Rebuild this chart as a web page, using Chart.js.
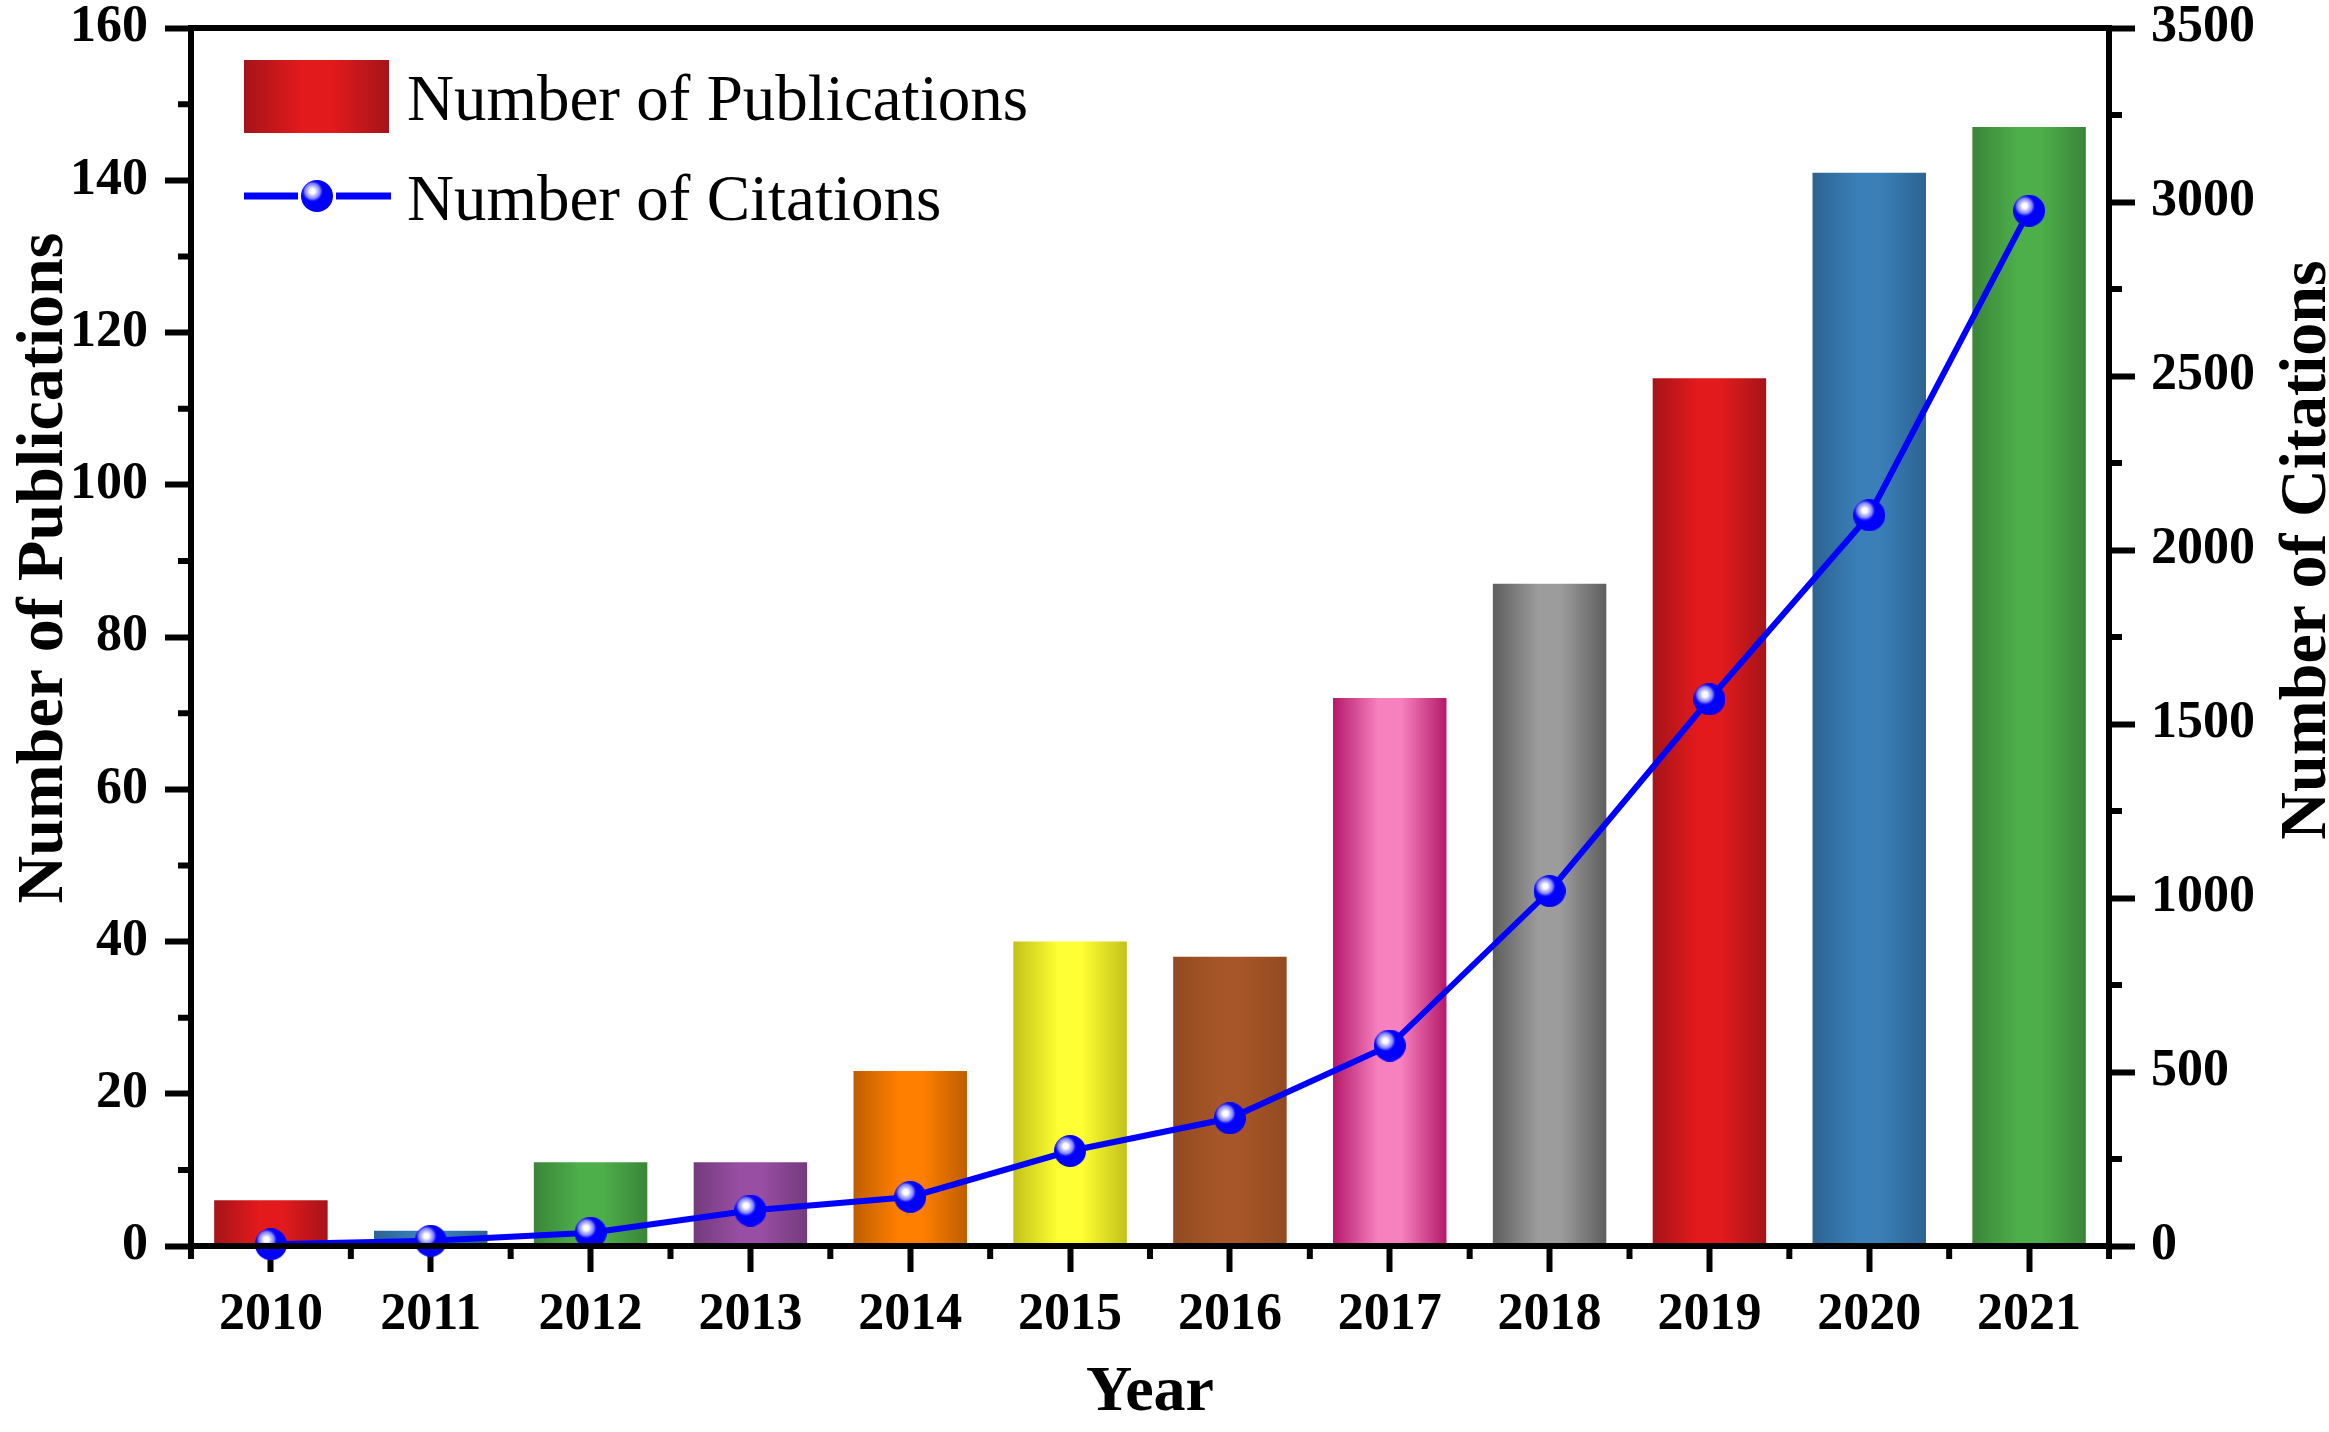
<!DOCTYPE html>
<html>
<head>
<meta charset="utf-8">
<script src="https://cdn.jsdelivr.net/npm/chart.js@4.4.1/dist/chart.umd.min.js"></script>
<style>
	html, body { margin: 0; padding: 0; background: #fff; }
	#wrap { width: 2329px; height: 1432px; position: relative; }
</style>
</head>
<body>
<div id="wrap"><canvas id="pubChart"></canvas></div>
<script>
const years = ['2010', '2011', '2012', '2013', '2014', '2015', '2016', '2017', '2018', '2019', '2020', '2021'];
const publications = [6, 2, 11, 11, 23, 40, 38, 72, 87, 114, 141, 147];
const citations = [5, 15, 38, 102, 141, 273, 367, 576, 1020, 1571, 2100, 2975];

const barLight = ['#e31a1c', '#3a7fb8', '#4daf4a', '#984ea3', '#ff7f00', '#ffff33', '#a65628', '#f781bf', '#9c9c9c', '#e31a1c', '#3a7fb8', '#4daf4a'];
const barDark = ['#a5141a', '#2c6391', '#3a8539', '#733b7c', '#bf5e00', '#c2c21a', '#934a20', '#b5196a', '#5e5e5e', '#a5141a', '#2c6391', '#3a8539'];

const pubTicks = [0, 20, 40, 60, 80, 100, 120, 140, 160];
const pubMinorTicks = [10, 30, 50, 70, 90, 110, 130, 150];
const citeTicks = [0, 500, 1000, 1500, 2000, 2500, 3000, 3500];
const citeMinorTicks = [250, 750, 1250, 1750, 2250, 2750, 3250];

const serif = '"Liberation Serif", "Times New Roman", serif';
const barPct = 0.71;

function makeSphere(r) {
	const c = document.createElement('canvas');
	c.width = c.height = r * 2;
	const g = c.getContext('2d');
	g.fillStyle = '#0000ff';
	g.beginPath();
	g.arc(r, r, r, 0, Math.PI * 2);
	g.fill();
	const hx = r - r * 0.28;
	const hy = r - r * 0.3;
	const rg = g.createRadialGradient(hx, hy, 0, hx, hy, r * 0.7);
	rg.addColorStop(0, '#ffffff');
	rg.addColorStop(0.22, '#ffffff');
	rg.addColorStop(0.4, '#c8c8ff');
	rg.addColorStop(0.7, '#7878ff');
	rg.addColorStop(1, 'rgba(0,0,255,0)');
	g.fillStyle = rg;
	g.beginPath();
	g.arc(r, r, r, 0, Math.PI * 2);
	g.fill();
	return c;
}

const sphere = makeSphere(16);

function barGradient(ctx, x0, x1, i) {
	const g = ctx.createLinearGradient(x0, 0, x1, 0);
	g.addColorStop(0, barDark[i]);
	g.addColorStop(0.4, barLight[i]);
	g.addColorStop(0.6, barLight[i]);
	g.addColorStop(1, barDark[i]);
	return g;
}

// top frame line, minor ticks, legend and rotated axis titles
const extrasPlugin = {
	id: 'extras',
	afterDraw(chart) {
		const { ctx, chartArea, scales } = chart;
		const { left, right, top, bottom } = chartArea;
		ctx.save();
		ctx.strokeStyle = '#000';
		ctx.lineWidth = 6;
		ctx.beginPath();
		ctx.moveTo(left - 3, top);
		ctx.lineTo(right + 3, top);
		ctx.stroke();

		ctx.beginPath();
		pubMinorTicks.forEach((v) => {
			const y = scales.y.getPixelForValue(v);
			ctx.moveTo(left - 13, y);
			ctx.lineTo(left, y);
		});
		citeMinorTicks.forEach((v) => {
			const y = scales.y1.getPixelForValue(v);
			ctx.moveTo(right, y);
			ctx.lineTo(right + 13, y);
		});
		const cat = scales.x.width / years.length;
		for (let i = 0; i <= years.length; i++) {
			const x = left + cat * i;
			ctx.moveTo(x, bottom);
			ctx.lineTo(x, bottom + 13);
		}
		ctx.stroke();

		// legend
		const bx = left + 53;
		const by = top + 32;
		ctx.fillStyle = barGradient(ctx, bx, bx + 145, 0);
		ctx.fillRect(bx, by, 145, 73);
		ctx.strokeStyle = '#0000ff';
		ctx.lineWidth = 7;
		ctx.beginPath();
		ctx.moveTo(bx, by + 136);
		ctx.lineTo(bx + 54, by + 136);
		ctx.moveTo(bx + 92, by + 136);
		ctx.lineTo(bx + 147, by + 136);
		ctx.stroke();
		ctx.drawImage(sphere, bx + 73 - 16, by + 136 - 16);
		ctx.fillStyle = '#000';
		ctx.font = `65px ${serif}`;
		ctx.textAlign = 'left';
		ctx.textBaseline = 'alphabetic';
		ctx.fillText('Number of Publications', bx + 163, by + 60);
		ctx.fillText('Number of Citations', bx + 163, by + 160);

		// axis titles
		ctx.font = `bold 66px ${serif}`;
		ctx.textAlign = 'center';
		ctx.save();
		ctx.translate(62, 568);
		ctx.rotate(-Math.PI / 2);
		ctx.fillText('Number of Publications', 0, 0);
		ctx.restore();
		ctx.save();
		ctx.translate(2325, 550);
		ctx.rotate(-Math.PI / 2);
		ctx.fillText('Number of Citations', 0, 0);
		ctx.restore();
		ctx.restore();
	}
};

const tickFont = { family: serif, size: 52, weight: 'bold' };

new Chart(document.getElementById('pubChart'), {
	type: 'bar',
	data: {
		labels: years,
		datasets: [
			{
				type: 'line',
				label: 'Number of Citations',
				data: citations,
				yAxisID: 'y1',
				borderColor: '#0000ff',
				borderWidth: 6,
				tension: 0,
				pointStyle: sphere,
				pointRadius: 16,
				clip: false,
				order: 0
			},
			{
				type: 'bar',
				label: 'Number of Publications',
				data: publications,
				yAxisID: 'y',
				categoryPercentage: 1,
				barPercentage: barPct,
				order: 1,
				backgroundColor: function(context) {
					const i = context.dataIndex;
					const chart = context.chart;
					if (!chart.chartArea || context.type !== 'data') {
						return barLight[i || 0];
					}
					const cx = chart.scales.x.getPixelForValue(i);
					const half = chart.scales.x.width / years.length * barPct / 2;
					return barGradient(chart.ctx, cx - half, cx + half, i);
				}
			}
		]
	},
	options: {
		responsive: true,
		maintainAspectRatio: false,
		animation: false,
		layout: { padding: { top: 28, left: 0, right: 0, bottom: 0 } },
		plugins: {
			legend: { display: false },
			tooltip: { enabled: false }
		},
		scales: {
			x: {
				grid: { display: true, drawOnChartArea: false, offset: false, tickLength: 26, tickWidth: 6, tickColor: '#000' },
				border: { display: true, width: 6, color: '#000', z: 1 },
				ticks: { font: tickFont, color: '#000', padding: 12, maxRotation: 0 },
				title: { display: true, text: 'Year', font: { family: serif, size: 64, weight: 'bold' }, color: '#000', padding: { top: 0, bottom: 0 } },
				afterFit: function(scale) {
					scale.height = 186;
					scale.paddingLeft = 0;
					scale.paddingRight = 0;
				}
			},
			y: {
				position: 'left',
				min: 0,
				max: 160,
				grid: { display: true, drawOnChartArea: false, tickLength: 26, tickWidth: 6, tickColor: '#000' },
				border: { display: true, width: 6, color: '#000', z: 1 },
				ticks: { font: tickFont, color: '#000', padding: 17, callback: (v) => String(v) },
				afterBuildTicks: function(scale) { scale.ticks = pubTicks.map((v) => ({ value: v })); },
				afterFit: function(scale) {
					scale.width = 191;
					scale.paddingTop = 0;
					scale.paddingBottom = 0;
				}
			},
			y1: {
				position: 'right',
				min: 0,
				max: 3500,
				grid: { display: true, drawOnChartArea: false, tickLength: 26, tickWidth: 6, tickColor: '#000' },
				border: { display: true, width: 6, color: '#000', z: 1 },
				ticks: { font: tickFont, color: '#000', padding: 16, callback: (v) => String(v) },
				afterBuildTicks: function(scale) { scale.ticks = citeTicks.map((v) => ({ value: v })); },
				afterFit: function(scale) {
					scale.width = 220;
					scale.paddingTop = 0;
					scale.paddingBottom = 0;
				}
			}
		}
	},
	plugins: [extrasPlugin]
});
</script>
</body>
</html>
